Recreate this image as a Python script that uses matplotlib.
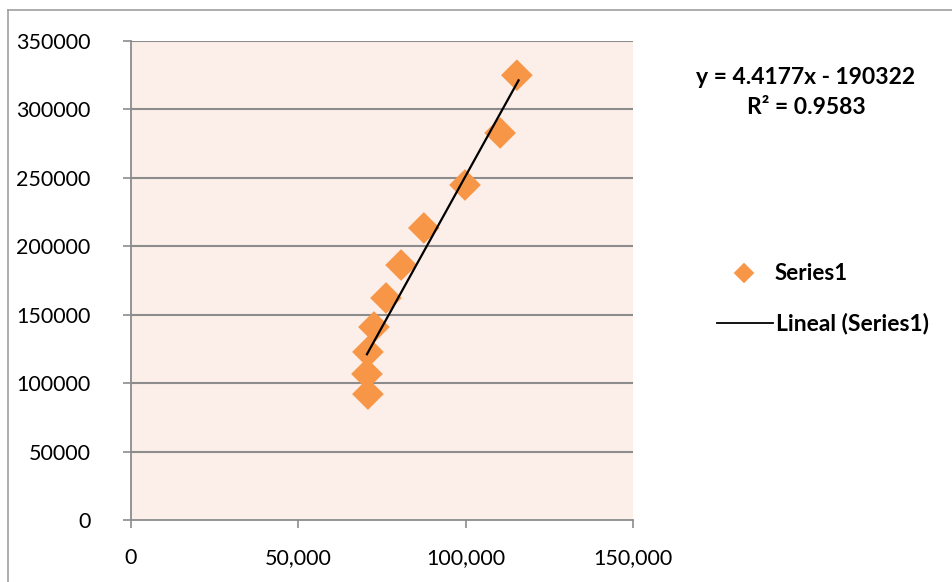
import matplotlib.pyplot as plt
from matplotlib.lines import Line2D

plt.rcParams['font.family'] = ['Lato', 'DejaVu Sans']

# data
x_vals = [70800, 70500, 70800, 72600, 76200, 80700, 87500, 99800, 110300, 115300]
y_vals = [92000, 106700, 122800, 141000, 162200, 186300, 213400, 244800, 282800, 325000]

slope = 4.4177
intercept = -190322
r2 = 0.9583

x_ticks = [0, 50000, 100000, 150000]
x_ticklabels = ['0', '50,000', '100,000', '150,000']
y_ticks = [0, 50000, 100000, 150000, 200000, 250000, 300000, 350000]

orange = '#F79646'
grid_col = '#8C8C8C'

fig = plt.figure(figsize=(9.53, 5.82), dpi=100)

# outer chart frame
fig.add_artist(Line2D([8 / 953, 8 / 953], [0, 1 - 10 / 582], color='#A0A0A0', lw=1.2))
fig.add_artist(Line2D([8 / 953, 1], [1 - 10 / 582, 1 - 10 / 582], color='#A0A0A0', lw=1.2))

ax = fig.add_axes([131 / 953, 1 - 520 / 582, 502 / 953, 479 / 582])
ax.set_facecolor('#FCEEE9')

ax.set_xlim(0, 150000)
ax.set_ylim(0, 350000)
ax.set_xticks(x_ticks)
ax.set_xticklabels(x_ticklabels)
ax.set_yticks(y_ticks)
ax.set_yticklabels([str(v) for v in y_ticks])

for v in y_ticks[1:]:
    ax.axhline(v, color=grid_col, lw=1.5, zorder=1)

for side in ['top', 'right']:
    ax.spines[side].set_visible(False)
for side in ['left', 'bottom']:
    ax.spines[side].set_color(grid_col)
    ax.spines[side].set_linewidth(1.3)

ax.tick_params(axis='both', direction='out', length=6, width=1.2, color=grid_col,
               labelsize=15.5, labelcolor='black')
ax.tick_params(axis='x', pad=14)
ax.tick_params(axis='y', pad=23)

ax.scatter(x_vals, y_vals, marker='D', s=260, color=orange, edgecolors='none', zorder=3)

# linear trend line over the data range
x0, x1 = min(x_vals), max(x_vals) + 500
ax.plot([x0, x1], [slope * x0 + intercept, slope * x1 + intercept], color='black', lw=1.6, zorder=4)

fig.text(806 / 953, 1 - 77 / 582, 'y = 4.4177x - 190322', ha='center', va='center',
         fontsize=16.5, fontweight='bold')
fig.text(806 / 953, 1 - 108 / 582, 'R² = %.4f' % r2, ha='center', va='center',
         fontsize=16.5, fontweight='bold')

# legend
leg_ax = fig.add_axes([0, 0, 1, 1], facecolor='none')
leg_ax.set_xlim(0, 953)
leg_ax.set_ylim(582, 0)
leg_ax.axis('off')
leg_ax.scatter([744], [273], marker='D', s=110, color=orange, edgecolors='none')
leg_ax.text(775, 273, 'Series1', ha='left', va='center', fontsize=16, fontweight='bold')
leg_ax.plot([717, 773], [323, 323], color='black', lw=1.3)
leg_ax.text(776, 323, 'Lineal (Series1)', ha='left', va='center', fontsize=16.5, fontweight='bold')

fig.savefig('out.png', dpi=100)
